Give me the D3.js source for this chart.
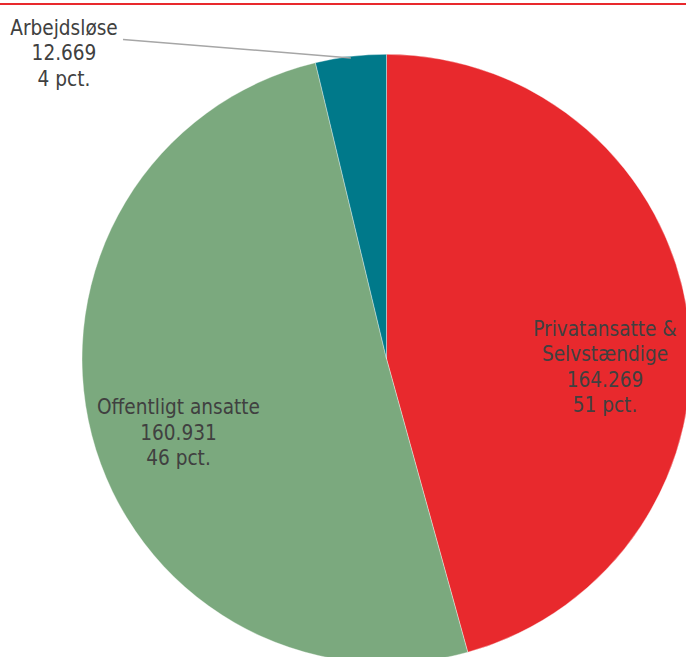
<!DOCTYPE html>
<html>
<head>
<meta charset="utf-8">
<script src="https://cdn.jsdelivr.net/npm/d3@7"></script>
<style>
html,body{margin:0;padding:0;background:#fff;overflow:hidden;}
svg{display:block;}
text{font-family:"DejaVu Sans Condensed","DejaVu Sans",sans-serif;fill:#404040;}
</style>
</head>
<body>
<svg id="chart" width="686" height="657"></svg>
<script>
// Data
const categories = ["Privatansatte & Selvstændige", "Offentligt ansatte", "Arbejdsløse"];
const labelLines = [["Privatansatte &", "Selvstændige"], ["Offentligt ansatte"], ["Arbejdsløse"]];
const counts = ["164.269", "160.931", "12.669"];
const pctLabels = ["51 pct.", "46 pct.", "4 pct."];
// slice sizes as drawn in the picture (share of the circle, %)
const sliceShares = [45.7, 50.55, 3.75];
const colors = ["#E8292D", "#7BA97E", "#00798A"];

const W = 686, H = 657;
const cx = 386.5, cy = 358.8, R = 304.5;
const svg = d3.select("#chart");

// top red rule
svg.append("line").attr("x1", 0).attr("x2", W).attr("y1", 4).attr("y2", 4)
  .attr("stroke", "#E8292D").attr("stroke-width", 2);

const pie = d3.pie().sort(null).value(d => d)(sliceShares);
const arc = d3.arc().innerRadius(0).outerRadius(R);
const g = svg.append("g").attr("transform", `translate(${cx},${cy})`);
g.selectAll("path").data(pie).join("path")
  .attr("d", arc)
  .attr("fill", (d, i) => colors[i])
  .attr("stroke", "#fff").attr("stroke-width", 0.6).attr("stroke-opacity", 0.6);

// label positions (center x, first baseline y)
const labelPos = [[605, 336], [178.5, 414.3], [64, 35]];
const lh = 25.4;
labelLines.forEach((lines, i) => {
  const all = lines.concat([counts[i], pctLabels[i]]);
  const t = svg.append("text").attr("text-anchor", "middle").attr("font-size", 20.6);
  all.forEach((s, j) => {
    t.append("tspan").attr("x", labelPos[i][0]).attr("y", labelPos[i][1] + j * lh).text(s);
  });
});

// leader line for the small slice
const mid = pie[2];
const a = (mid.startAngle + mid.endAngle) / 2;
const px = cx + Math.sin(a) * R * 0.995, py = cy - Math.cos(a) * R * 0.995;
svg.append("line").attr("x1", 123).attr("y1", 39.5).attr("x2", px).attr("y2", py)
  .attr("stroke", "#A6A6A6").attr("stroke-width", 1.5);
</script>
</body>
</html>
